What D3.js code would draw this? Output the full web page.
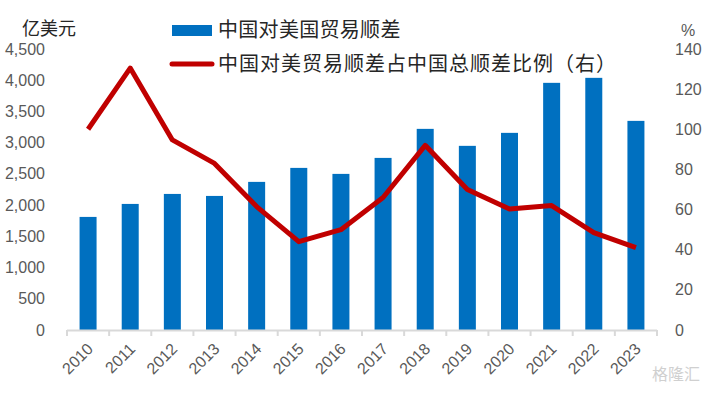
<!DOCTYPE html>
<html>
<head>
<meta charset="utf-8">
<script src="https://cdn.jsdelivr.net/npm/d3@7"></script>
<style>
  body { margin: 0; background: #fff; }
  text { font-family: "Liberation Sans", "Noto Sans CJK SC", sans-serif; }
  .cjk { font-family: "Noto Sans CJK SC", sans-serif; }
</style>
</head>
<body>
<div id="chart"></div>
<script>
// data
const years = ["2010","2011","2012","2013","2014","2015","2016","2017","2018","2019","2020","2021","2022","2023"];
const surplus_us = [1811, 2019, 2179, 2147, 2372, 2596, 2500, 2756, 3221, 2949, 3157, 3958, 4038, 3349]; // 亿美元
const share_pct = [100, 130.5, 94.7, 83, 61.5, 44, 50, 66, 92, 70, 60.3, 62, 48.5, 41]; // %
const left_ticks = [0, 500, 1000, 1500, 2000, 2500, 3000, 3500, 4000, 4500];
const right_ticks = [0, 20, 40, 60, 80, 100, 120, 140];
const legend_names = ["中国对美国贸易顺差", "中国对美贸易顺差占中国总顺差比例（右）"];

const w = 706, h = 395;
const plot = { left: 67, right: 657, top: 49, bottom: 330 };

const svg = d3.select("#chart").append("svg")
    .attr("width", w)
    .attr("height", h);

// scales
const x_band = d3.scaleBand().domain(years).range([plot.left, plot.right]);
const y_left = d3.scaleLinear().domain([0, 4500]).range([plot.bottom, plot.top]);
const y_right = d3.scaleLinear().domain([0, 140]).range([plot.bottom, plot.top]);
const bar_w = 17;

// bars
svg.append("g").selectAll("rect")
    .data(years)
    .join("rect")
    .attr("x", (d) => x_band(d) + x_band.bandwidth() / 2 - bar_w / 2)
    .attr("width", bar_w)
    .attr("y", (d, i) => y_left(surplus_us[i]))
    .attr("height", (d, i) => plot.bottom - y_left(surplus_us[i]))
    .attr("fill", "#0070C0");

// x axis line + ticks
const axis_g = svg.append("g");
axis_g.append("line")
    .attr("x1", plot.left).attr("x2", plot.right)
    .attr("y1", plot.bottom + 0.5).attr("y2", plot.bottom + 0.5)
    .attr("stroke", "#D9D9D9").attr("stroke-width", 2);
axis_g.selectAll("line.tick")
    .data(years.concat(["end"]))
    .join("line")
    .attr("class", "tick")
    .attr("x1", (d, i) => plot.left + i * x_band.bandwidth())
    .attr("x2", (d, i) => plot.left + i * x_band.bandwidth())
    .attr("y1", plot.bottom).attr("y2", plot.bottom + 6)
    .attr("stroke", "#D9D9D9").attr("stroke-width", 2);

// x labels rotated
axis_g.selectAll("text")
    .data(years)
    .join("text")
    .attr("transform", (d) => `translate(${x_band(d) + x_band.bandwidth() / 2 + 2},${plot.bottom + 16}) rotate(-45)`)
    .attr("text-anchor", "end")
    .attr("dy", "0.35em")
    .attr("font-size", 16)
    .attr("fill", "#595959")
    .text((d) => d);

// left y labels
svg.append("g").selectAll("text")
    .data(left_ticks)
    .join("text")
    .attr("x", 45)
    .attr("y", (d) => y_left(d))
    .attr("dy", "0.35em")
    .attr("text-anchor", "end")
    .attr("font-size", 16)
    .attr("fill", "#595959")
    .text((d) => d3.format(",")(d));

// right y labels
svg.append("g").selectAll("text")
    .data(right_ticks)
    .join("text")
    .attr("x", 675)
    .attr("y", (d) => y_right(d))
    .attr("dy", "0.35em")
    .attr("text-anchor", "start")
    .attr("font-size", 16)
    .attr("fill", "#595959")
    .text((d) => d);

// unit labels
svg.append("text").attr("class", "cjk")
    .attr("x", 22).attr("y", 29).attr("dy", "0.35em")
    .attr("font-size", 18).attr("fill", "#262626")
    .text("亿美元");
svg.append("text")
    .attr("x", 688).attr("y", 30).attr("dy", "0.35em")
    .attr("text-anchor", "middle")
    .attr("font-size", 16).attr("fill", "#595959")
    .text("%");

// line
const line = d3.line()
    .x((d, i) => x_band(years[i]) + x_band.bandwidth() / 2)
    .y((d) => y_right(d));
svg.append("path")
    .datum(share_pct)
    .attr("fill", "none")
    .attr("stroke", "#C00000")
    .attr("stroke-width", 5)
    .attr("stroke-linejoin", "round")
    .attr("d", line);

// legend
const legend = svg.append("g");
legend.append("rect")
    .attr("x", 172).attr("y", 25).attr("width", 40).attr("height", 11)
    .attr("fill", "#0070C0");
legend.append("line")
    .attr("x1", 172).attr("x2", 212).attr("y1", 64).attr("y2", 64)
    .attr("stroke", "#C00000").attr("stroke-width", 5).attr("stroke-linecap", "round");
legend.selectAll("text")
    .data(legend_names)
    .join("text")
    .attr("class", "cjk")
    .attr("x", 218)
    .attr("y", (d, i) => 30 + i * 34)
    .attr("dy", "0.35em")
    .attr("font-size", 20)
    .attr("letter-spacing", (d, i) => i === 1 ? 1 : 0.3)
    .attr("fill", "#262626")
    .text((d) => d);

// watermark
svg.append("text").attr("class", "cjk")
    .attr("x", 700).attr("y", 380)
    .attr("text-anchor", "end")
    .attr("font-size", 16)
    .attr("fill", "#D0D0D0")
    .text("格隆汇");
</script>
</body>
</html>
